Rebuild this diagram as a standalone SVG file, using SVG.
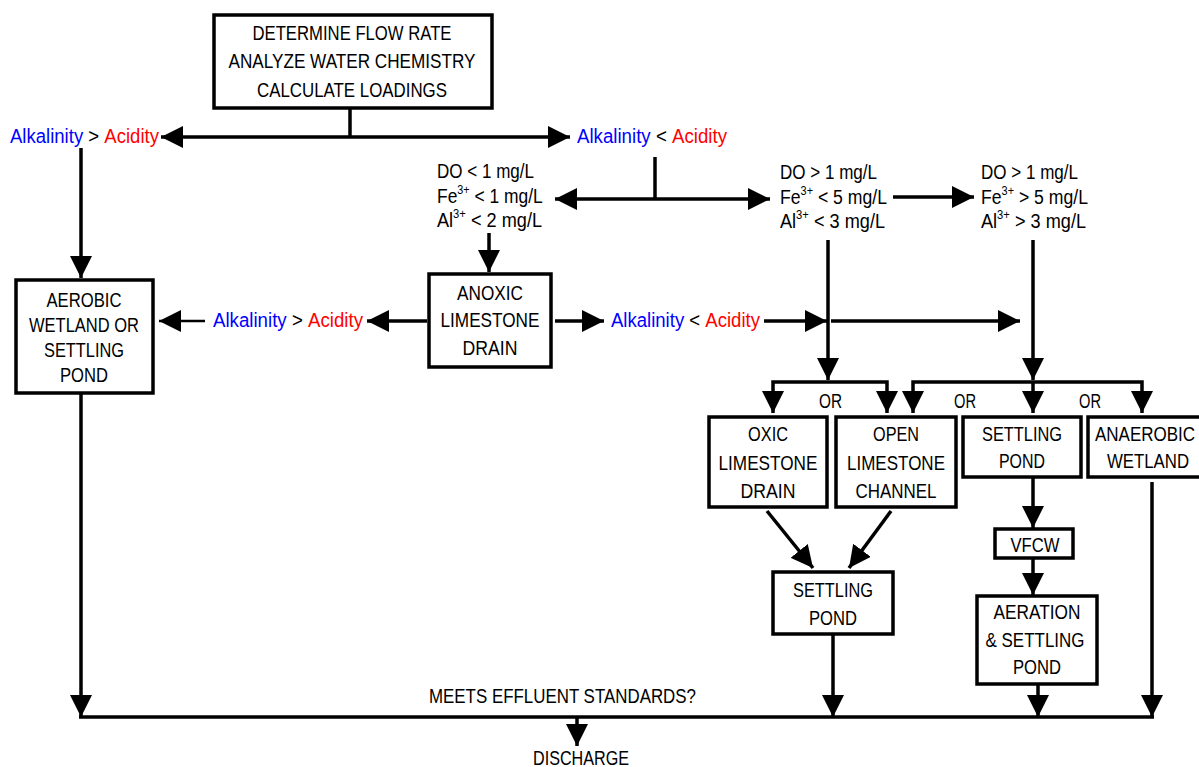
<svg xmlns="http://www.w3.org/2000/svg" width="1199" height="767" viewBox="0 0 1199 767">
<style>
text{font-family:"Liberation Sans Narrow","Liberation Sans",Arial,sans-serif;font-size:21px;fill:#000}
.c{text-anchor:middle}
.b{fill:#00f}
.r{fill:#f00}
.s{font-size:13px}
rect{fill:#fff;stroke:#000;stroke-width:3.5}
.ln path{fill:none;stroke:#000;stroke-width:3.5}
.ln path.t{stroke-width:2.5}
</style>
<defs>
<marker id="a" markerUnits="userSpaceOnUse" markerWidth="24" markerHeight="22" refX="22" refY="11" orient="auto" viewBox="0 0 24 22">
<path d="M0,0 L22,11 L0,22 z" fill="#000"/>
</marker>
</defs>
<rect width="1199" height="767" style="fill:#fff;stroke:none"/>
<g class="ln" id="connectors">
<path d="M350,108 V137"/>
<path d="M350,137 H161" marker-end="url(#a)"/>
<path d="M350,137 H570" marker-end="url(#a)"/>
<path d="M81,148 V278" marker-end="url(#a)"/>
<path d="M81,393 V717" marker-end="url(#a)"/>
<path d="M655,157 V199"/>
<path d="M655,199 H555" marker-end="url(#a)"/>
<path d="M655,199 H770" marker-end="url(#a)"/>
<path d="M893,197 H974" marker-end="url(#a)"/>
<path d="M489,233 V272" marker-end="url(#a)"/>
<path d="M427,321 H367" marker-end="url(#a)"/>
<path class="t" d="M205,321 H159" marker-end="url(#a)"/>
<path d="M555,321 H604" marker-end="url(#a)"/>
<path d="M764,321 H827" marker-end="url(#a)"/>
<path d="M831,321 H1020" marker-end="url(#a)"/>
<path d="M828,240 V380" marker-end="url(#a)"/>
<path d="M1033,240 V380" marker-end="url(#a)"/>
<path d="M828,382 H773 V413" marker-end="url(#a)"/>
<path d="M828,382 H887 V413" marker-end="url(#a)"/>
<path d="M1033,382 H913 V413" marker-end="url(#a)"/>
<path d="M1033,382 H1142 V413" marker-end="url(#a)"/>
<path d="M1033,382 V413" marker-end="url(#a)"/>
<path d="M767,511 L813,568" marker-end="url(#a)"/>
<path d="M891,511 L849,568" marker-end="url(#a)"/>
<path d="M833,634 V717" marker-end="url(#a)"/>
<path d="M1033,477 V528" marker-end="url(#a)"/>
<path d="M1033,558 V595" marker-end="url(#a)"/>
<path d="M1038,684 V717" marker-end="url(#a)"/>
<path d="M1152,482 V717" marker-end="url(#a)"/>
<path d="M79,717 H1154"/>
<path d="M577,717 V746" marker-end="url(#a)"/>
</g>
<g id="start">
<rect x="214" y="15" width="278" height="93"/>
<text class="c" x="352" y="40" textLength="199" lengthAdjust="spacingAndGlyphs">DETERMINE FLOW RATE</text>
<text class="c" x="352" y="68" textLength="247" lengthAdjust="spacingAndGlyphs">ANALYZE WATER CHEMISTRY</text>
<text class="c" x="352" y="97" textLength="190" lengthAdjust="spacingAndGlyphs">CALCULATE LOADINGS</text>
</g>
<g id="alk-gt-acid-top">
<text transform="translate(10,143) scale(0.884,1)"><tspan class="b">Alkalinity</tspan> &gt; <tspan class="r">Acidity</tspan></text>
</g>
<g id="alk-lt-acid-top">
<text transform="translate(577,143) scale(0.89,1)"><tspan class="b">Alkalinity</tspan> &lt; <tspan class="r">Acidity</tspan></text>
</g>
<g id="cond-anoxic">
<text x="437" y="178" textLength="97" lengthAdjust="spacingAndGlyphs">DO &lt; 1 mg/L</text>
<text transform="translate(437,203) scale(0.83,1)">Fe<tspan class="s" dy="-9">3+</tspan><tspan dy="9"> &lt; 1 mg/L</tspan></text>
<text transform="translate(437,227) scale(0.864,1)">Al<tspan class="s" dy="-9">3+</tspan><tspan dy="9"> &lt; 2 mg/L</tspan></text>
</g>
<g id="cond-oxic">
<text x="780" y="179" textLength="97" lengthAdjust="spacingAndGlyphs">DO &gt; 1 mg/L</text>
<text transform="translate(780,204) scale(0.84,1)">Fe<tspan class="s" dy="-9">3+</tspan><tspan dy="9"> &lt; 5 mg/L</tspan></text>
<text transform="translate(780,228) scale(0.864,1)">Al<tspan class="s" dy="-9">3+</tspan><tspan dy="9"> &lt; 3 mg/L</tspan></text>
</g>
<g id="cond-high">
<text x="981" y="179" textLength="97" lengthAdjust="spacingAndGlyphs">DO &gt; 1 mg/L</text>
<text transform="translate(981,204) scale(0.84,1)">Fe<tspan class="s" dy="-9">3+</tspan><tspan dy="9"> &gt; 5 mg/L</tspan></text>
<text transform="translate(981,228) scale(0.864,1)">Al<tspan class="s" dy="-9">3+</tspan><tspan dy="9"> &gt; 3 mg/L</tspan></text>
</g>
<g id="aerobic">
<rect x="16" y="280" width="137" height="113"/>
<text class="c" x="84" y="307" textLength="75" lengthAdjust="spacingAndGlyphs">AEROBIC</text>
<text class="c" x="84" y="332" textLength="110" lengthAdjust="spacingAndGlyphs">WETLAND OR</text>
<text class="c" x="84" y="357" textLength="80" lengthAdjust="spacingAndGlyphs">SETTLING</text>
<text class="c" x="84" y="382" textLength="48" lengthAdjust="spacingAndGlyphs">POND</text>
</g>
<g id="anoxic">
<rect x="429" y="274" width="122" height="93"/>
<text class="c" x="490" y="300" textLength="66" lengthAdjust="spacingAndGlyphs">ANOXIC</text>
<text class="c" x="490" y="327" textLength="99" lengthAdjust="spacingAndGlyphs">LIMESTONE</text>
<text class="c" x="490" y="355" textLength="55" lengthAdjust="spacingAndGlyphs">DRAIN</text>
</g>
<g id="alk-gt-acid-mid">
<text transform="translate(213,327) scale(0.89,1)"><tspan class="b">Alkalinity</tspan> &gt; <tspan class="r">Acidity</tspan></text>
</g>
<g id="alk-lt-acid-mid">
<text transform="translate(611,327) scale(0.884,1)"><tspan class="b">Alkalinity</tspan> &lt; <tspan class="r">Acidity</tspan></text>
</g>
<g id="or-labels">
<text x="819" y="408" textLength="23" lengthAdjust="spacingAndGlyphs">OR</text>
<text x="954" y="408" textLength="22" lengthAdjust="spacingAndGlyphs">OR</text>
<text x="1079" y="408" textLength="22" lengthAdjust="spacingAndGlyphs">OR</text>
</g>
<g id="oxic">
<rect x="709" y="417" width="118" height="90"/>
<text class="c" x="768" y="441" textLength="40" lengthAdjust="spacingAndGlyphs">OXIC</text>
<text class="c" x="768" y="470" textLength="99" lengthAdjust="spacingAndGlyphs">LIMESTONE</text>
<text class="c" x="768" y="498" textLength="55" lengthAdjust="spacingAndGlyphs">DRAIN</text>
</g>
<g id="open-channel">
<rect x="836" y="417" width="120" height="90"/>
<text class="c" x="896" y="441" textLength="46" lengthAdjust="spacingAndGlyphs">OPEN</text>
<text class="c" x="896" y="470" textLength="98" lengthAdjust="spacingAndGlyphs">LIMESTONE</text>
<text class="c" x="896" y="498" textLength="81" lengthAdjust="spacingAndGlyphs">CHANNEL</text>
</g>
<g id="settling-top">
<rect x="963" y="417" width="118" height="60"/>
<text class="c" x="1022" y="441" textLength="80" lengthAdjust="spacingAndGlyphs">SETTLING</text>
<text class="c" x="1022" y="468" textLength="46" lengthAdjust="spacingAndGlyphs">POND</text>
</g>
<g id="anaerobic">
<rect x="1088" y="417" width="113" height="60"/>
<text class="c" transform="translate(1145,441) scale(0.81,1)">ANAEROBIC</text>
<text class="c" transform="translate(1148,468) scale(0.8,1)">WETLAND</text>
</g>
<g id="settling-mid">
<rect x="773" y="572" width="120" height="62"/>
<text class="c" x="833" y="597" textLength="80" lengthAdjust="spacingAndGlyphs">SETTLING</text>
<text class="c" x="833" y="625" textLength="48" lengthAdjust="spacingAndGlyphs">POND</text>
</g>
<g id="vfcw">
<rect x="995" y="529" width="78" height="29"/>
<text class="c" x="1035" y="552" textLength="49" lengthAdjust="spacingAndGlyphs">VFCW</text>
</g>
<g id="aeration">
<rect x="977" y="596" width="120" height="88"/>
<text class="c" x="1037" y="619" textLength="87" lengthAdjust="spacingAndGlyphs">AERATION</text>
<text class="c" x="1035" y="647" textLength="99" lengthAdjust="spacingAndGlyphs">&amp; SETTLING</text>
<text class="c" x="1037" y="674" textLength="48" lengthAdjust="spacingAndGlyphs">POND</text>
</g>
<g id="meets">
<text x="429" y="703" textLength="267" lengthAdjust="spacingAndGlyphs">MEETS EFFLUENT STANDARDS?</text>
</g>
<g id="discharge">
<text x="533" y="765" textLength="96" lengthAdjust="spacingAndGlyphs">DISCHARGE</text>
</g>
</svg>
